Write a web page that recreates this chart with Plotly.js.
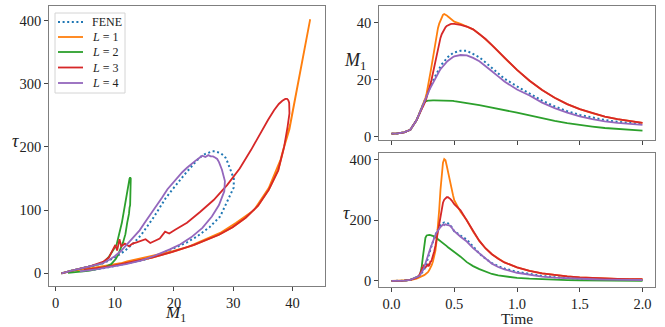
<!DOCTYPE html>
<html>
<head>
<meta charset="utf-8">
<script src="https://cdn.plot.ly/plotly-3.0.1.min.js"></script>
<style>
  html, body { margin: 0; padding: 0; background: #fff; }
  #chart { width: 665px; height: 327px; }
</style>
</head>
<body>
<div id="chart"></div>
<script>
// sample times
const time = [0, 0.05, 0.1, 0.15, 0.2, 0.22, 0.23, 0.24, 0.25, 0.26,
  0.27, 0.28, 0.29, 0.30, 0.31, 0.32, 0.33, 0.34, 0.35, 0.36,
  0.37, 0.38, 0.39, 0.40, 0.41, 0.42, 0.43, 0.44, 0.45, 0.46,
  0.47, 0.48, 0.49, 0.50, 0.55, 0.60, 0.65, 0.70, 0.75, 0.80,
  0.85, 0.90, 1.0, 1.1, 1.2, 1.3, 1.4, 1.5, 1.6, 1.7,
  1.8, 1.9, 2.0];
// L = 3 is noisier early on, so it is sampled more finely there
const timeL3 = [0, 0.05, 0.1, 0.15, 0.2, 0.22, 0.23, 0.24, 0.245, 0.25,
  0.255, 0.26, 0.265, 0.27, 0.275, 0.28, 0.285, 0.29, 0.295, 0.30,
  0.305, 0.31, 0.315, 0.32, 0.33, 0.34, 0.35, 0.36,
  0.37, 0.38, 0.39, 0.40, 0.41, 0.42, 0.43, 0.44, 0.45, 0.46,
  0.47, 0.48, 0.49, 0.50, 0.55, 0.60, 0.65, 0.70, 0.75, 0.80,
  0.85, 0.90, 1.0, 1.1, 1.2, 1.3, 1.4, 1.5, 1.6, 1.7,
  1.8, 1.9, 2.0];

// M1 per model
const m1Fene = [1.0, 1.1, 1.5, 2.4, 5.8, 8.0, 9.0, 10.0, 11.0, 12.0,
  13.2, 14.4, 15.5, 16.6, 17.6, 18.6, 19.6, 20.5, 21.4, 22.3,
  23.1, 23.9, 24.6, 25.3, 25.9, 26.5, 27.0, 27.5, 27.9, 28.3,
  28.7, 29.0, 29.3, 29.5, 30.1, 30.1, 29.0, 27.8, 26.0, 24.0,
  22.2, 20.3, 17.6, 15.2, 12.6, 10.6, 8.9, 7.6, 6.6, 5.8,
  5.2, 4.7, 4.4];
const m1L1 = [1.0, 1.1, 1.5, 2.4, 5.8, 8.0, 9.0, 10.0, 11.0, 12.1,
  13.5, 15.2, 17.3, 19.8, 22.4, 25.0, 27.8, 30.5, 33.5, 36.0,
  38.0, 39.6, 40.9, 42.0, 42.7, 43.0, 42.85, 42.5, 42.1, 41.7,
  41.3, 40.95, 40.6, 40.3, 39.5, 38.6, 37.6, 36.0, 34.2, 32.1,
  29.9, 27.6, 23.4, 19.6, 16.3, 13.6, 11.4, 9.6, 8.2, 7.0,
  6.1, 5.4, 4.8];
const m1L2 = [1.0, 1.1, 1.5, 2.4, 5.8, 8.0, 9.0, 10.3, 11.2, 11.9,
  12.3, 12.5, 12.6, 12.6, 12.7, 12.7, 12.7, 12.7, 12.7, 12.7,
  12.7, 12.7, 12.7, 12.7, 12.7, 12.7, 12.6, 12.6, 12.6, 12.6,
  12.5, 12.5, 12.5, 12.4, 12.1, 11.8, 11.4, 11.0, 10.6, 10.2,
  9.8, 9.4, 8.4, 7.4, 6.4, 5.5, 4.7, 4.0, 3.5, 3.0,
  2.7, 2.4, 2.1];
const m1L3 = [1.0, 1.1, 1.5, 2.4, 5.8, 8.0, 9.0, 9.6, 10.1, 10.4,
  10.8, 11.1, 11.7, 12.4, 13.0, 13.7, 14.4, 15.2, 16.0, 16.8,
  17.6, 18.5, 19.2, 20.2, 22.2, 24.4, 26.7, 29.0,
  31.1, 33.0, 34.6, 35.9, 36.9, 37.7, 38.3, 38.8, 39.1, 39.3,
  39.45, 39.5, 39.5, 39.5, 39.2, 38.6, 37.6, 36.0, 34.2, 32.1,
  29.9, 27.6, 23.4, 19.6, 16.3, 13.6, 11.4, 9.6, 8.2, 7.0,
  6.1, 5.4, 4.8];
const m1L4 = [1.0, 1.1, 1.5, 2.4, 5.8, 8.0, 9.0, 10.0, 11.0, 12.0,
  13.1, 14.2, 15.2, 16.2, 17.1, 18.0, 18.9, 19.8, 20.6, 21.4,
  22.2, 22.9, 23.6, 24.2, 24.8, 25.3, 25.8, 26.2, 26.6, 27.0,
  27.3, 27.6, 27.9, 28.1, 28.6, 28.5, 27.6, 26.4, 24.8, 22.9,
  21.1, 19.3, 16.5, 14.4, 11.9, 10.0, 8.4, 7.1, 6.1, 5.3,
  4.8, 4.4, 4.1];

// tau per model
const tauFene = [0, 0.3, 1, 3.5, 11, 16, 20, 25, 31, 38,
  48, 60, 74, 89, 104, 119, 131, 142, 152, 162,
  171, 179, 185, 189, 191, 193, 193, 192, 190, 187,
  183, 177, 170, 164, 150, 136, 114, 90, 73, 59,
  49, 41, 30, 22, 16.5, 12.5, 9.5, 7.5, 6, 5,
  4.3, 3.7, 3.2];
const tauL1 = [0, 0.2, 0.8, 3, 8, 11, 12.5, 14, 16, 19,
  22, 25, 29, 35, 42, 52, 64, 80, 100, 135,
  180, 235, 300, 352, 390, 402, 398, 380, 358, 338,
  318, 300, 283, 266, 228, 200, 163, 132, 107, 88,
  73, 61, 45, 33.5, 25, 19.5, 15, 12, 9.8, 8.2,
  7.0, 6.1, 5.5];
const tauL2 = [0, 0.3, 1, 3.5, 11, 16, 26, 45, 80, 120,
  142, 150, 152, 152, 151, 150, 149, 147, 144, 141,
  137, 133, 130, 127, 124, 121, 118, 115, 111, 108,
  104, 101, 98, 94, 80, 62, 49, 39, 30, 23,
  18, 14.5, 10, 7.5, 5.5, 4, 3, 2.3, 1.8, 1.4,
  1.1, 0.9, 0.7];
const tauL3 = [0, 0.3, 1, 3.5, 11, 18, 25, 36, 45, 36,
  54, 43, 47, 43, 47, 49, 51, 54, 48, 52,
  55, 66, 63, 69, 80, 97, 116, 140,
  166, 195, 222, 243, 258, 268, 273, 276, 276, 274,
  270, 265, 259, 253, 233, 200, 163, 132, 107, 88,
  73, 61, 45, 33.5, 25, 19.5, 15, 12, 9.8, 8.2,
  7.0, 6.1, 5.5];
const tauL4 = [0, 0.3, 1, 3.5, 11, 16, 21, 27, 35, 45,
  56, 68, 82, 95, 108, 120, 133, 143, 152, 160,
  167, 173, 178, 182, 186, 184, 187, 185, 185, 183,
  181, 176, 170, 164, 146, 130, 108, 90, 72, 57,
  46, 38, 27, 20, 14.5, 11, 8.5, 6.8, 5.5, 4.6,
  4.0, 3.5, 3.1];

const names = ["FENE", "<i>L</i> = 1", "<i>L</i> = 2", "<i>L</i> = 3", "<i>L</i> = 4"];
const colors = ["#1f77b4", "#ff7f0e", "#2ca02c", "#d62728", "#9467bd"];
const timeAll = [time, time, time, timeL3, time];
const m1All = [m1Fene, m1L1, m1L2, m1L3, m1L4];
const tauAll = [tauFene, tauL1, tauL2, tauL3, tauL4];

const serif = "Liberation Serif";
const W = 665, H = 327;
const px = (v) => v / W;
const py = (v) => 1 - v / H;

function lineStyle(i) {
  const line = { color: colors[i], width: 1.8 };
  if (i === 0) { line.dash = "2px,2.6px"; line.width = 2; }
  return line;
}

var traces = [];
for (let i = 0; i < names.length; i++) {
  const line = lineStyle(i);
  traces.push({ x: m1All[i], y: tauAll[i], xaxis: "x", yaxis: "y", mode: "lines",
    name: names[i], showlegend: false, line: line });
  traces.push({ x: timeAll[i], y: m1All[i], xaxis: "x2", yaxis: "y2", mode: "lines",
    name: names[i], showlegend: false, line: line });
  traces.push({ x: timeAll[i], y: tauAll[i], xaxis: "x3", yaxis: "y3", mode: "lines",
    name: names[i], showlegend: false, line: line });
}

const frame = {
  showline: true, mirror: true, linecolor: "#7f7f7f", linewidth: 1.3,
  ticks: "outside", ticklen: 3.5, tickwidth: 1, tickcolor: "#444",
  showgrid: false, zeroline: false, fixedrange: true,
  tickfont: { family: serif, size: 14.5, color: "#222" },
};

function lab(text, x, y, size) {
  return { text: text, x: px(x), y: py(y), xref: "paper", yref: "paper",
    xanchor: "center", yanchor: "middle", showarrow: false,
    font: { family: serif, size: size, color: "#222" } };
}

// legend drawn in the upper left corner of the left panel
var shapes = [{ type: "rect", xref: "paper", yref: "paper",
  x0: px(55), x1: px(125), y0: py(13), y1: py(93),
  line: { color: "#d4d4d4", width: 1 }, fillcolor: "rgba(255,255,255,0.85)", layer: "above" }];
var annotations = [
  lab("<i>M</i><sub>1</sub>", 176, 314, 17),
  lab("Time", 517, 318, 15.5),
  lab("<i>τ</i>", 15, 141, 18),
  lab("<i>M</i><sub>1</sub>", 355, 61, 18),
  lab("<i>τ</i>", 346, 213, 18),
];
const rowY = [22, 37, 52, 67.5, 83];
for (let i = 0; i < names.length; i++) {
  const ls = lineStyle(i);
  shapes.push({ type: "line", xref: "paper", yref: "paper", layer: "above",
    x0: px(58), x1: px(83), y0: py(rowY[i]), y1: py(rowY[i]),
    line: { color: ls.color, width: ls.width, dash: ls.dash || "solid" } });
  annotations.push({ text: names[i], x: px(90), y: py(rowY[i]), xref: "paper", yref: "paper",
    xanchor: "left", yanchor: "middle", showarrow: false,
    font: { family: serif, size: 12, color: "#222" } });
}

var layout = {
  width: W, height: H,
  margin: { l: 0, r: 0, t: 0, b: 0 },
  paper_bgcolor: "#fff", plot_bgcolor: "#fff",
  font: { family: serif, size: 14.5, color: "#222" },
  showlegend: false,
  xaxis: Object.assign({}, frame, { domain: [0.0737, 0.4887], range: [-1.1, 45.5],
    tickvals: [0, 10, 20, 30, 40], anchor: "y" }),
  yaxis: Object.assign({}, frame, { domain: [0.1254, 0.9817], range: [-20, 423],
    tickvals: [0, 100, 200, 300, 400], anchor: "x" }),
  xaxis2: Object.assign({}, frame, { domain: [0.5699, 0.985], range: [-0.1, 2.1],
    tickvals: [0, 0.5, 1, 1.5, 2], showticklabels: false, anchor: "y2" }),
  yaxis2: Object.assign({}, frame, { domain: [0.5719, 0.9817], range: [-1.2, 45.8],
    tickvals: [0, 20, 40], anchor: "x2" }),
  xaxis3: Object.assign({}, frame, { domain: [0.5699, 0.985], range: [-0.1, 2.1],
    tickvals: [0, 0.5, 1, 1.5, 2], ticktext: ["0.0", "0.5", "1.0", "1.5", "2.0"], anchor: "y3" }),
  yaxis3: Object.assign({}, frame, { domain: [0.1223, 0.5321], range: [-20, 422],
    tickvals: [0, 200, 400], anchor: "x3" }),
  shapes: shapes,
  annotations: annotations,
};

Plotly.newPlot("chart", traces, layout, { displayModeBar: false, staticPlot: true });
</script>
</body>
</html>
